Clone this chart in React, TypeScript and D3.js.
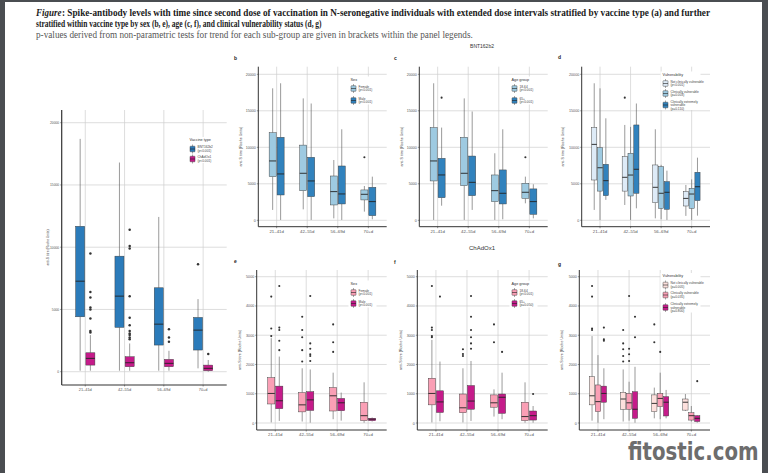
import React from "react";
import * as d3 from "d3";

// ---------- data ----------
const categories = ["21–41d", "42–55d", "56–69d", "70+d"];

// box stats per category: [min, q1, median, q3, max]
const aBnt = [[80, 4410, 7270, 11680, 18700], [80, 3560, 6070, 9280, 16800], [80, 2140, 3820, 6740, 12430], [270, 1740, 3340, 4360, 5830]];
const aChad = [[80, 530, 1070, 1520, 2940], [80, 400, 720, 1200, 2270], [80, 400, 670, 990, 1680], [0, 80, 270, 530, 940]];
const aBntOut = [[], [], [], [8640]];
const aChadOut = [[9490, 6400, 5960, 5160, 5000, 4280, 3260, 3150], [11400, 10100, 9900, 6070, 4330, 3740, 3260, 3070, 2940, 2750, 2600], [3400, 2750, 2400], [1420]];

const bFemale = [[1420, 5980, 8130, 12000, 18080], [1500, 4060, 6440, 10300, 16700], [270, 2100, 3930, 6070, 8260], [1190, 2790, 3560, 4160, 4700]];
const bMale = [[50, 3470, 6350, 11370, 18770], [50, 3240, 5390, 8630, 16000], [50, 2240, 3610, 7440, 12470], [140, 640, 2560, 4520, 5980]];
const bFemaleOut = [[], [], [], [8630]];
const bMaleOut = [[], [], [], []];

const c1864 = [[50, 5390, 8130, 12700, 18770], [50, 4750, 6440, 11370, 16700], [50, 2560, 4060, 6210, 9180], [2330, 3000, 3840, 5070, 5980]];
const c65 = [[2000, 3100, 6210, 8490, 12700], [1420, 3380, 5200, 8800, 14900], [140, 2240, 3700, 6900, 12470], [270, 820, 2560, 4300, 4930]];
const c1864Out = [[], [], [], [8630]];
const c65Out = [[16800], [], [], []];

const dNcv = [[1420, 5520, 10400, 12700, 18770], [2100, 4000, 5890, 8720, 13060], [270, 2420, 4520, 7580, 12470], [600, 1960, 3000, 3930, 4840]];
const dCv = [[50, 4000, 7200, 9950, 18080], [50, 3330, 6200, 9180, 12800], [140, 1640, 3700, 7350, 7600], [50, 1640, 3600, 4380, 5600]];
const dCev = [[2800, 3380, 5430, 7670, 13970], [1640, 3700, 6990, 13060, 16000], [50, 1500, 3840, 5300, 6800], [640, 2700, 4600, 6580, 8580]];
const dNcvOut = [[], [16800], [], []];
const dCvOut = [[], [], [], []];
const dCevOut = [[], [], [], []];

const eFemale = [[20, 650, 1010, 1550, 2900], [50, 380, 620, 1040, 1870], [130, 410, 930, 1210, 1720], [10, 80, 250, 710, 1390]];
const eMale = [[70, 490, 760, 1260, 2270], [10, 430, 790, 1070, 1830], [80, 420, 690, 840, 1040], [50, 80, 130, 160, 190]];
const eFemaleOut = [[4320, 3230, 2970], [3630, 3180, 2930, 2490, 2100], [3370, 2760, 2430], []];
const eMaleOut = [[4680, 3260, 3180, 2810, 2490], [4340, 2720, 2540, 2350, 2290, 2120], [], []];

const f1864 = [[20, 620, 1010, 1530, 2840], [20, 350, 520, 990, 1870], [220, 540, 690, 960, 1150], [10, 80, 220, 710, 1390]];
const f65 = [[60, 360, 720, 1100, 2100], [70, 470, 750, 1280, 2120], [130, 330, 880, 990, 1720], [10, 100, 250, 410, 580]];
const f1864Out = [[4680, 3260, 3180, 2970, 2930], [2520, 2360, 2290], [3370, 2760], []];
const f65Out = [[4320], [4340, 3630, 3180, 2930, 2720, 2540], [2430], [990]];

const gNcv = [[80, 620, 930, 1580, 2970], [50, 470, 820, 1050, 1830], [160, 390, 670, 960, 1210], [410, 440, 710, 820, 990]];
const gCv = [[10, 390, 730, 1300, 2320], [80, 470, 690, 1010, 1410], [130, 560, 840, 1010, 1720], [50, 100, 250, 350, 580]];
const gCev = [[130, 710, 1010, 1260, 1870], [10, 160, 470, 1070, 1920], [160, 240, 710, 900, 1130], [10, 50, 160, 250, 270]];
const gNcvOut = [[4680, 4320, 3230, 3180], [3180, 2720, 2520, 2290, 2100], [3370, 2760], []];
const gCvOut = [[], [4340, 2540, 2350, 2120], [2430], []];
const gCevOut = [[3260, 2860, 2810], [3630, 2930], [], [1430]];

const titleLead = "Figure";
const titleLines = [
  ": Spike-antibody levels with time since second dose of vaccination in N-seronegative individuals with extended dose intervals stratified by vaccine type (a) and further",
  "stratified within vaccine type by sex (b, e), age (c, f), and clinical vulnerability status (d, g)",
  "p-values derived from non-parametric tests for trend for each sub-group are given in brackets within the panel legends.",
];

// ---------- colours ----------
const C = {
  bnt: "#2b7bba",
  chad: "#c51b8a",
  blueL: "#9ecae1",
  blueD: "#3182bd",
  blueXL: "#deebf7",
  pinkL: "#fa9fb5",
  pinkXL: "#fde0dd",
  mag: "#c51b8a",
};

type Series = { name: string[]; color: string; stats: number[][]; out: number[][] };
type Spec = {
  letter: string;
  letterPos: [number, number];
  left: number; right: number; top: number; bottom: number;
  y0: number; yMaxPx: number; maxTick: number; tickStep: number;
  titleX: number;
  font: number;
  series: Series[];
  legend: { x: number; y: number; title: string; gap: number[] };
  big?: boolean;
};

const SANS = "'Liberation Sans', Arial, sans-serif";

function Panel({ s }: { s: Spec }) {
  const x = d3.scalePoint<string>().domain(categories).range([s.left, s.right]).padding(0.6);
  const y = d3.scaleLinear().domain([0, s.maxTick]).range([s.y0, s.yMaxPx]);
  const ticks = d3.range(0, s.maxTick + 1, s.tickStep);
  const step = x.step();
  const n = s.series.length;
  const offFrac = n === 2 ? 0.26 : 0.19;
  const wFrac = n === 2 ? 0.23 : 0.17;
  const bw = step * wFrac;
  const gridC = "#cfcfcf";
  const axisW = s.big ? 1.2 : 1;
  const dotR = s.big ? 1.25 : 1.05;
  const f = s.font;
  return (
    <g>
      {ticks.map((t) => (
        <line key={"h" + t} x1={s.left} x2={s.right} y1={y(t)} y2={y(t)} stroke={gridC} strokeWidth={0.7} />
      ))}
      {categories.map((c) => (
        <line key={"v" + c} x1={x(c)} x2={x(c)} y1={s.top} y2={s.bottom} stroke={gridC} strokeWidth={0.7} />
      ))}
      <line x1={s.left} x2={s.left} y1={s.top} y2={s.bottom} stroke="#333" strokeWidth={axisW} />
      <line x1={s.left} x2={s.right} y1={s.bottom} y2={s.bottom} stroke="#333" strokeWidth={axisW} />
      {ticks.map((t) => (
        <g key={"t" + t}>
          <line x1={s.left - 1.5} x2={s.left} y1={y(t)} y2={y(t)} stroke="#333" strokeWidth={0.5} />
          <text x={s.left - 2.5} y={y(t) + f * 0.35} fontSize={f * 0.85} textAnchor="end" fill="#555" fontFamily={SANS}>
            {t}
          </text>
        </g>
      ))}
      {categories.map((c) => (
        <g key={"xt" + c}>
          <line x1={x(c)} x2={x(c)} y1={s.bottom} y2={s.bottom + 1.5} stroke="#333" strokeWidth={0.5} />
          <text x={x(c)} y={s.bottom + 2 + f} fontSize={f} textAnchor="middle" fill="#555" fontFamily={SANS}>
            {c}
          </text>
        </g>
      ))}
      <text
        transform={`translate(${s.titleX},${(s.top + s.bottom) / 2}) rotate(-90)`}
        fontSize={f * 0.85}
        textAnchor="middle"
        fill="#444"
        fontFamily={SANS}
      >
        anti-S titre (Roche Units)
      </text>
      {s.letter && (
        <text x={s.letterPos[0]} y={s.letterPos[1]} fontSize={5} fontWeight="bold" fill="#222" fontFamily={SANS}>
          {s.letter}
        </text>
      )}
      {s.series.map((se, si) =>
        categories.map((c, ci) => {
          const cx = (x(c) as number) + step * offFrac * (si - (n - 1) / 2);
          const [mn, q1, md, q3, mx] = se.stats[ci];
          return (
            <g key={se.name[0] + c}>
              <line x1={cx} x2={cx} y1={y(mx)} y2={y(q3)} stroke="#555" strokeWidth={0.6} />
              <line x1={cx} x2={cx} y1={y(q1)} y2={y(mn)} stroke="#555" strokeWidth={0.6} />
              <rect
                x={cx - bw / 2}
                y={y(q3)}
                width={bw}
                height={Math.max(0.5, y(q1) - y(q3))}
                fill={se.color}
                stroke="#3a3a3a"
                strokeWidth={0.45}
              />
              <line x1={cx - bw / 2} x2={cx + bw / 2} y1={y(md)} y2={y(md)} stroke="#222" strokeWidth={0.9} />
              {se.out[ci].map((o, oi) => (
                <circle key={oi} cx={cx} cy={y(o)} r={dotR} fill="#333" />
              ))}
            </g>
          );
        })
      )}
      <Legend s={s} />
    </g>
  );
}

function Legend({ s }: { s: Spec }) {
  const L = s.legend;
  const fs = 3.2;
  let cy = L.y + 8;
  const items = s.series.map((se, i) => {
    if (i > 0) cy += L.gap[i - 1];
    const kcy = cy;
    return (
      <g key={i}>
        <line x1={L.x + 3} x2={L.x + 3} y1={kcy - 4.5} y2={kcy + 4.5} stroke="#555" strokeWidth={0.5} />
        <rect x={L.x + 0.5} y={kcy - 2.8} width={5} height={5.6} fill={se.color} stroke="#3a3a3a" strokeWidth={0.45} rx={0.6} />
        <line x1={L.x + 0.5} x2={L.x + 5.5} y1={kcy} y2={kcy} stroke="#222" strokeWidth={0.6} />
        {se.name.map((ln, li) => (
          <text
            key={li}
            x={L.x + 8}
            y={kcy + (li - (se.name.length - 1) / 2) * 3.6 + 1.1}
            fontSize={fs}
            fill="#444"
            fontFamily={SANS}
          >
            {ln}
          </text>
        ))}
      </g>
    );
  });
  const lastLines = s.series[s.series.length - 1].name.length;
  const h = cy - L.y + 6 + lastLines;
  return (
    <g>
      <rect x={L.x - 2} y={L.y - 4} width={s.series.length === 3 ? 40 : 28} height={h} fill="#fff" />
      <text x={L.x} y={L.y} fontSize={3.8} fill="#333" fontFamily={SANS}>
        {L.title}
      </text>
      {items}
    </g>
  );
}

const topRow = { top: 66.7, bottom: 226.7, y0: 220.3, yMaxPx: 74.3, maxTick: 20000, tickStep: 5000, font: 4.3 };
const botRow = { top: 270, bottom: 430, y0: 423, yMaxPx: 276.7, maxTick: 5000, tickStep: 1000, font: 4.3 };

const specs: Spec[] = [
  {
    letter: "", letterPos: [0, 0], left: 61.7, right: 226.7, top: 110, bottom: 385, y0: 371.7, yMaxPx: 122.7,
    maxTick: 20000, tickStep: 5000, titleX: 48.7, font: 3.9, big: true,
    series: [
      { name: ["BNT162b2", "(p<0.001)"], color: C.bnt, stats: aBnt, out: aBntOut },
      { name: ["ChAdOx1", "(p<0.001)"], color: C.chad, stats: aChad, out: aChadOut },
    ],
    legend: { x: 189.5, y: 141, title: "Vaccine type", gap: [10] },
  },
  {
    ...topRow, letter: "b", letterPos: [234, 60], left: 258.3, right: 386.7, titleX: 241.7,
    series: [
      { name: ["Female", "(p<0.001)"], color: C.blueL, stats: bFemale, out: bFemaleOut },
      { name: ["Male", "(p<0.001)"], color: C.blueD, stats: bMale, out: bMaleOut },
    ],
    legend: { x: 350.5, y: 80.5, title: "Sex", gap: [12] },
  },
  {
    ...topRow, letter: "c", letterPos: [394, 60], left: 419.3, right: 547.7, titleX: 402.5,
    series: [
      { name: ["18-64", "(p<0.001)"], color: C.blueL, stats: c1864, out: c1864Out },
      { name: ["65+", "(p<0.001)"], color: C.blueD, stats: c65, out: c65Out },
    ],
    legend: { x: 511.5, y: 80.5, title: "Age group", gap: [12] },
  },
  {
    ...topRow, letter: "d", letterPos: [558, 59], left: 581.7, right: 710, titleX: 564,
    series: [
      { name: ["Not clinically vulnerable", "(p<0.001)"], color: C.blueXL, stats: dNcv, out: dNcvOut },
      { name: ["Clinically vulnerable", "(p=0.003)"], color: C.blueL, stats: dCv, out: dCvOut },
      { name: ["Clinically extremely", "vulnerable", "(p=0.110)"], color: C.blueD, stats: dCev, out: dCevOut },
    ],
    legend: { x: 662.5, y: 75.5, title: "Vulnerability", gap: [10, 11.5] },
  },
  {
    ...botRow, letter: "e", letterPos: [234, 263], left: 256.7, right: 386.7, titleX: 240.5,
    series: [
      { name: ["Female", "(p<0.001)"], color: C.pinkL, stats: eFemale, out: eFemaleOut },
      { name: ["Male", "(p<0.001)"], color: C.mag, stats: eMale, out: eMaleOut },
    ],
    legend: { x: 350.5, y: 284.5, title: "Sex", gap: [11] },
  },
  {
    ...botRow, letter: "f", letterPos: [394, 264], left: 417.3, right: 547.7, titleX: 401.5,
    series: [
      { name: ["18-64", "(p<0.001)"], color: C.pinkL, stats: f1864, out: f1864Out },
      { name: ["65+", "(p=0.050)"], color: C.mag, stats: f65, out: f65Out },
    ],
    legend: { x: 511.5, y: 284.5, title: "Age group", gap: [11] },
  },
  {
    ...botRow, letter: "g", letterPos: [558, 266], left: 579.3, right: 710, titleX: 563,
    series: [
      { name: ["Not clinically vulnerable", "(p=0.005)"], color: C.pinkXL, stats: gNcv, out: gNcvOut },
      { name: ["Clinically vulnerable", "(p=0.035)"], color: C.pinkL, stats: gCv, out: gCvOut },
      { name: ["Clinically extremely", "vulnerable", "(p=0.800)"], color: C.mag, stats: gCev, out: gCevOut },
    ],
    legend: { x: 662.5, y: 277, title: "Vulnerability", gap: [10, 12.5] },
  },
];

export default function App() {
  const SERIF = "'Liberation Serif', 'Times New Roman', serif";
  return (
    <svg width={768} height={473} style={{ position: "absolute", left: 0, top: 0 }} xmlns="http://www.w3.org/2000/svg">
      <rect x={0} y={0} width={768} height={473} fill="#4a4d51" />
      <rect x={5} y={2} width={757} height={471} fill="#ffffff" />
      <g transform="translate(36,16) scale(0.8,1)">
        <text x={0} y={0} fontSize={10.5} fontFamily={SERIF} fill="#1a1a1a" fontWeight="bold" fontStyle="italic" textLength={32} lengthAdjust="spacingAndGlyphs">
          {titleLead}
        </text>
        <text x={32.5} y={0} fontSize={10.5} fontFamily={SERIF} fill="#1a1a1a" fontWeight="bold" textLength={810} lengthAdjust="spacingAndGlyphs">
          {titleLines[0]}
        </text>
      </g>
      <g transform="translate(36,27) scale(0.8,1)">
        <text x={0} y={0} fontSize={10.5} fontFamily={SERIF} fill="#1a1a1a" fontWeight="bold" textLength={357} lengthAdjust="spacingAndGlyphs">
          {titleLines[1]}
        </text>
      </g>
      <g transform="translate(36,37.5) scale(0.8,1)">
        <text x={0} y={0} fontSize={10.5} fontFamily={SERIF} fill="#555" textLength={546} lengthAdjust="spacingAndGlyphs">
          {titleLines[2]}
        </text>
      </g>
      <text x={482} y={48} fontSize={5} fontFamily={SANS} fill="#333" textAnchor="middle">BNT162b2</text>
      <text x={482} y={250} fontSize={6} fontFamily={SANS} fill="#333" textAnchor="middle">ChAdOx1</text>
      {specs.map((s, i) => (
        <Panel key={i} s={s} />
      ))}
      <g transform="translate(628,460) scale(0.68,1)">
        <text
          x={0}
          y={0}
          fontSize={25}
          fontFamily="'DejaVu Sans', sans-serif"
          fontWeight="bold"
          fill="#6d6d6d"
          stroke="#ffffff"
          strokeWidth={0.6}
          paintOrder="stroke"
          textLength={192}
          lengthAdjust="spacingAndGlyphs"
        >
          fitostic.com
        </text>
      </g>
    </svg>
  );
}
